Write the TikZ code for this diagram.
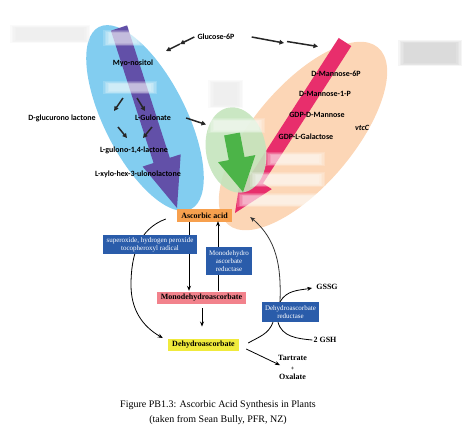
\documentclass[tikz,border=0pt]{standalone}
\usepackage{fontspec}
\setmainfont{Liberation Serif}
\newfontfamily\lblfont{Carlito}
\usetikzlibrary{arrows.meta,calc}
\definecolor{skyb}{RGB}{130,205,240}
\definecolor{purp}{RGB}{98,80,168}
\definecolor{peach}{RGB}{252,214,182}
\definecolor{pinkar}{RGB}{232,46,108}
\definecolor{lgreen}{RGB}{196,228,188}
\definecolor{garrow}{RGB}{76,180,72}
\definecolor{ascor}{RGB}{247,160,78}
\definecolor{bbox}{RGB}{42,92,170}
\definecolor{mpink}{RGB}{242,130,140}
\definecolor{yel}{RGB}{240,234,60}
\newcommand\fatarrow[6]{%
  \coordinate (fa-h) at ($(#2)!#4!(#1)$);
  \fill[#6] ($(#1)!#3!90:(#2)$) -- ($(fa-h)!#3!90:(#2)$) -- ($(fa-h)!#5!90:(#2)$)
    -- (#2) -- ($(fa-h)!#5!-90:(#2)$) -- ($(fa-h)!#3!-90:(#2)$) -- ($(#1)!#3!-90:(#2)$) -- cycle;}
\newcommand\blurbox[5]{%
  \foreach \k in {0,1.5,3,4.5,6}{\fill[#5,opacity=0.18] (#1+\k,#2+\k*0.5) rectangle (#3-\k,#4-\k*0.5);}}
\tikzset{
  lbl/.style={font=\lblfont\bfseries\fontsize{8}{9}\selectfont, inner sep=0pt, text=black},
  darr/.style={line width=1.5pt, black!85, -{Triangle[length=4.5pt,width=4.5pt]}},
  box/.style={font=\bfseries\fontsize{8}{9}\selectfont, inner sep=0pt, text=black},
  bluebox/.style={fill=bbox, text=white, font=\fontsize{7}{8.3}\selectfont, align=center, inner sep=0pt},
  tarr/.style={line width=0.8pt, -{Stealth[length=5pt,width=4pt]}},
  tline/.style={line width=0.8pt},
  plain/.style={font=\bfseries\fontsize{8}{9.5}\selectfont, inner sep=0pt, align=center}
}
\begin{document}
\begin{tikzpicture}[x=1pt,y=-1pt]
\useasboundingbox (0,0) rectangle (474,432);
% big ellipses
\fill[skyb, rotate around={-63.2:(145,118)}] (145,118) ellipse [x radius=102pt, y radius=41pt];
\fill[peach, rotate around={49.7:(303,136)}] (303,136) ellipse [x radius=116pt, y radius=50pt];
% big arrows
\coordinate (pa) at (119,28); \coordinate (pb) at (177,208);
\fatarrow{pa}{pb}{8.5pt}{50pt}{20pt}{purp}
\coordinate (ka) at (345,42); \coordinate (kb) at (235,213);
\fatarrow{ka}{kb}{7.5pt}{40pt}{18pt}{pinkar}
\fill[lgreen, opacity=0.9, rotate around={-80:(236,150)}] (236,150) ellipse [x radius=43pt, y radius=30pt];
\coordinate (ga) at (232,134); \coordinate (gb) at (243,192);
\fatarrow{ga}{gb}{8pt}{34pt}{19pt}{garrow}
% blurred labels
\blurbox{10}{25}{90}{43}{gray!20}
\blurbox{103}{30}{143}{46}{white}
\blurbox{103}{81}{157}{94}{white}
\blurbox{398}{40}{462}{66}{gray!45}
\blurbox{208}{80}{243}{108}{gray!20}
\blurbox{208}{118}{265}{133}{white}
\blurbox{265}{152}{325}{166}{white}
\blurbox{250}{172}{325}{187}{white}
\blurbox{237}{193}{323}{207}{white}
% upper labels
\node[lbl] (glu) at (216,37) {Glucose-6P};
\node[lbl] (myo) at (133,63) {Myo-nositol};
\node[lbl] (dgl) at (62,118) {D-glucurono lactone};
\node[lbl] (lgu) at (153,118) {L-Gulonate};
\node[lbl] (lgl) at (134,150) {L-gulono-1,4-lactone};
\node[lbl] (lxy) at (138,174) {L-xylo-hex-3-ulonolactone};
\node[lbl] (dm6) at (336,74) {D-Mannose-6P};
\node[lbl] (dm1) at (325,94) {D-Mannose-1-P};
\node[lbl] (gdm) at (317,115) {GDP-D-Mannose};
\node[lbl] (gdg) at (306,137) {GDP-L-Galactose};
\node[lbl, font=\lblfont\bfseries\itshape\fontsize{8}{9}\selectfont] (vtc) at (362,128) {vtcC};
% upper dark arrows
\coordinate (g1) at ($(glu.west)+(-3,0)$);
\coordinate (g2) at (180,44);
\coordinate (g3) at (166,51);
\draw[darr] (g1) -- (g2);
\draw[darr] (g2) -- (g3);
\coordinate (g4) at ($(glu.east)+(17,0)$);
\coordinate (g5) at (284,43);
\coordinate (g6) at (318,46.5);
\draw[darr] (g4) -- (g5);
\draw[darr] (287,41.5) -- (g6);
\coordinate (m1) at (123,98); \coordinate (m2) at (114,111);
\coordinate (m3) at (137,98); \coordinate (m4) at (145,111);
\draw[darr] (m1) -- (m2);
\draw[darr] (m3) -- (m4);
\coordinate (m5) at (118,127); \coordinate (m6) at (127,138);
\coordinate (m7) at (152,127); \coordinate (m8) at (143,138);
\draw[darr] (m5) -- (m6);
\draw[darr] (m7) -- (m8);
\coordinate (gr) at (206,124.5);
\draw[darr] ($(lgu.east)+(15,0)$) -- (gr);
% lower part nodes
\node[box, fill=ascor, minimum width=55pt, minimum height=13pt] (asc) at (204.5,215.5) {Ascorbic acid};
\node[box, fill=mpink, minimum width=89pt, minimum height=12pt] (mda) at (201.5,298) {Monodehydroascorbate};
\node[box, fill=yel, minimum width=71pt, minimum height=12.5pt] (dh) at (203.5,345) {Dehydroascorbate};
% arrows behind boxes
\draw[tarr] ($(asc.south)+(-15.5,0)$) -- ($(mda.north)+(-12.5,-1)$);
\draw[tarr] ($(mda.north)+(16.5,-1)$) -- ($(asc.south)+(13.5,-1)$);
\draw[tarr] ($(mda.south)+(0.5,4)$) -- ($(dh.north)+(-1.5,-12)$);
\coordinate (lc1) at ($(asc.west)+(-11,3.5)$);
\coordinate (lc2) at ($(dh.west)+(-5,-7)$);
\draw[tarr] (lc1) to[out=200,in=90] (131,285) to[out=-90,in=150] (lc2);
\node[bluebox, minimum width=94pt, minimum height=19pt] (sup) at (150,244.5) {superoxide, hydrogen peroxide\\tocopheroxyl radical};
\node[bluebox, minimum width=46pt, minimum height=28pt] (mdr) at (229,261) {Monodehydro\\ascorbate\\reductase};
\node[bluebox, minimum width=57pt, minimum height=20pt] (dr) at (290.5,312) {Dehydroascorbate\\reductase};
\node[plain] (gssg) at (327,287) {GSSG};
\node[plain] (gsh) at (325,340) {2 GSH};
\node[plain] (tart) at (292.5,367.5) {Tartrate\\{\fontsize{6}{7}\selectfont +}\\Oxalate};
\coordinate (rc) at ($(asc.east)+(18,1.5)$);
\draw[tline, -{Stealth[length=5pt,width=4pt]}, black!80] ($(dr.north)+(-10.5,0)$) to[out=88,in=-40] (rc);
\draw[tarr] ($(dr.north)+(-10.5,0)$) to[out=60,in=190] ($(gssg.west)+(-4,1)$);
\draw[tline] ($(dh.east)+(9,-2)$) to[out=30,in=-110] ($(dr.south)+(-17.5,0)$);
\draw[tline] ($(dr.south)+(-12.5,0)$) to[out=-75,in=175] ($(gsh.west)+(-1,0)$);
\draw[tarr] ($(dh.east)+(7,4)$) -- ($(tart.north west)+(2,10)$);
% caption
\node[inner sep=0pt, align=center, font=\fontsize{10}{15}\selectfont] (cap) at (218,412.5) {Figure PB1.3: Ascorbic Acid Synthesis in Plants\\(taken from Sean Bully, PFR, NZ)};
\end{tikzpicture}
\end{document}
